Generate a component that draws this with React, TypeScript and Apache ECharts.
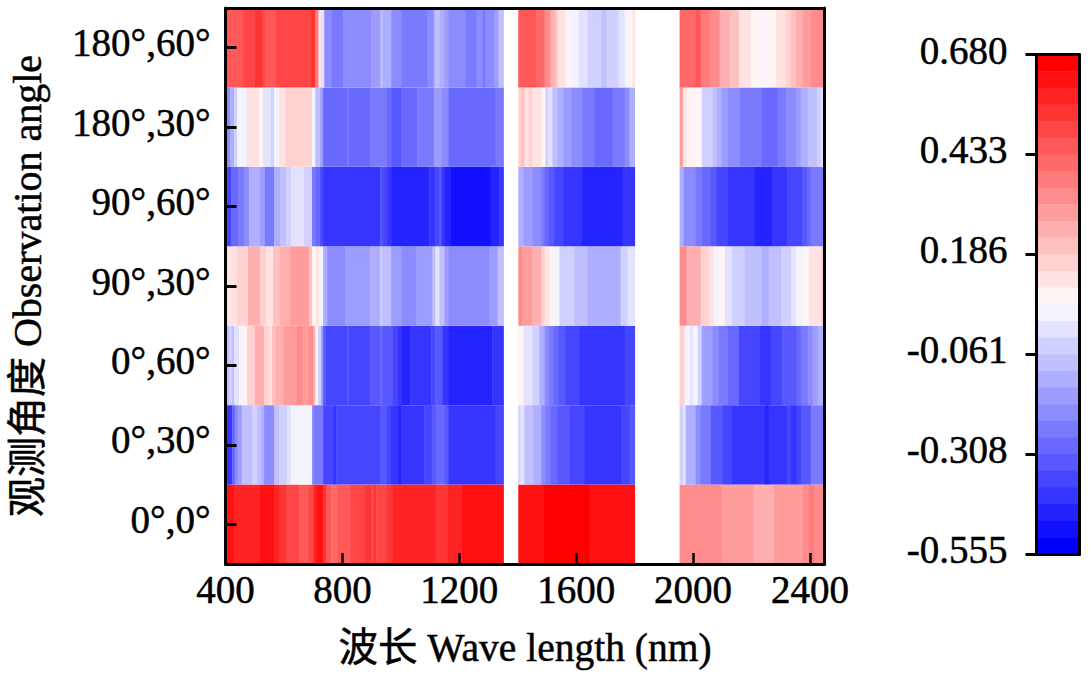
import React, { useEffect, useRef } from "react";
import * as echarts from "echarts";

const angleLabels = ["0°,0°", "0°,30°", "0°,60°", "90°,30°", "90°,60°", "180°,30°", "180°,60°"];
const colorbarTicks = [-0.555, -0.308, -0.061, 0.186, 0.433, 0.68];
const wavelengthTicks = [400, 800, 1200, 1600, 2000, 2400];
const palette = [
  "#ff0000", "#ff1111", "#ff2424", "#ff3535", "#ff4646", "#ff5858", "#ff6969", "#ff7a7a", "#ff8c8c", "#ff9d9d",
  "#ffafaf", "#ffc0c0", "#ffd1d1", "#ffe3e3", "#fff4f4", "#f4f4ff", "#e3e3ff", "#d1d1ff", "#c0c0ff", "#afafff",
  "#9d9dff", "#8c8cff", "#7a7aff", "#6969ff", "#5858ff", "#4646ff", "#3535ff", "#2424ff", "#1111ff", "#0000ff",
];

// Each entry: [wavelength where a stretch begins, value]; null marks the removed water-absorption gaps.
const row0_0 = [[400,.618],[429,.577],[518,.618],[566,.577],[583,.536],[607,.495],[652,.454],[683,.495],[700,.577],[710,.618],[734,.536],[744,.454],[762,.413],[782,.454],[827,.495],[875,.536],[899,.495],[906,.536],[916,.495],[950,.536],[971,.577],[1121,.536],[1159,.577],[1207,.618],[1351,null],
  [1402,.618],[1488,.659],[1646,.618],[1800,null],
  [1954,.330],[2098,.289],[2208,.248],[2277,.289],[2376,.330],[2397,.371],[2414,.330],[2450,null]];
const row0_30 = [[400,-.411],[422,-.287],[432,-.205],[443,-.164],[456,-.081],[491,-.040],[508,-.081],[522,-.122],[532,-.205],[566,-.081],[583,-.040],[611,.001],[624,.042],[696,-.205],[703,-.246],[734,-.369],[768,-.411],[779,-.369],[930,-.328],[950,-.369],[964,-.411],[988,-.452],[1002,-.411],[1080,-.369],[1108,-.328],[1121,-.287],[1149,-.328],[1163,-.411],[1324,-.369],[1351,null],
  [1402,-.040],[1409,.001],[1423,-.081],[1454,-.122],[1481,-.205],[1495,-.246],[1512,-.287],[1536,-.328],[1577,-.369],[1629,-.411],[1755,-.369],[1783,-.328],[1800,null],
  [1954,-.040],[1965,.001],[1975,-.122],[2009,-.205],[2026,-.246],[2061,-.328],[2102,-.369],[2133,-.411],[2246,-.452],[2259,-.411],[2321,-.369],[2335,-.411],[2355,-.369],[2369,-.328],[2403,-.246],[2450,null]];
const row0_60 = [[400,-.081],[412,-.040],[422,-.081],[429,.001],[446,.042],[460,.083],[474,.166],[501,.248],[532,.166],[549,.124],[559,.207],[570,.248],[600,.289],[642,.330],[666,.289],[683,.330],[700,.248],[707,.083],[717,-.040],[727,-.164],[734,-.328],[744,-.369],[816,-.328],[820,-.369],[895,-.328],[930,-.287],[936,-.328],[971,-.369],[988,-.411],[1002,-.452],[1032,-.411],[1104,-.369],[1118,-.328],[1142,-.411],[1163,-.452],[1313,-.411],[1351,null],
  [1402,.083],[1420,.001],[1450,-.040],[1474,-.122],[1492,-.205],[1505,-.246],[1522,-.287],[1540,-.328],[1564,-.369],[1612,-.411],[1766,-.369],[1800,null],
  [1954,.166],[1971,.042],[1989,.001],[1999,.042],[2016,-.040],[2030,-.164],[2067,-.205],[2088,-.246],[2119,-.287],[2157,-.369],[2229,-.411],[2266,-.369],[2304,-.328],[2355,-.287],[2369,-.246],[2393,-.205],[2410,-.164],[2427,-.122],[2450,null]];
const row90_30 = [[400,.124],[439,.166],[477,.248],[518,.166],[539,.124],[563,.207],[587,.248],[621,.289],[686,.207],[696,.083],[710,.124],[720,.042],[734,-.122],[748,-.205],[810,-.164],[895,-.122],[930,-.040],[936,-.081],[967,-.164],[1002,-.205],[1053,-.164],[1108,-.081],[1118,.001],[1132,-.081],[1149,-.164],[1163,-.205],[1303,-.164],[1331,-.081],[1351,null],
  [1402,.330],[1416,.289],[1450,.248],[1481,.166],[1492,.124],[1509,.083],[1526,.042],[1543,-.040],[1594,-.081],[1639,-.122],[1752,-.040],[1776,.001],[1800,null],
  [1954,.330],[1978,.248],[2026,.166],[2054,.124],[2071,.042],[2088,.083],[2109,.001],[2133,-.040],[2177,-.081],[2235,-.122],[2259,-.081],[2301,-.040],[2335,.001],[2352,.042],[2376,.083],[2397,.124],[2438,.166],[2450,null]];
const row90_60 = [[400,-.369],[419,-.287],[443,-.246],[463,-.205],[480,-.122],[518,-.164],[535,-.246],[566,-.122],[587,-.081],[607,-.040],[624,.001],[669,-.040],[696,-.246],[707,-.287],[724,-.369],[734,-.411],[930,-.328],[936,-.369],[953,-.411],[967,-.452],[1097,-.411],[1118,-.369],[1132,-.328],[1139,-.411],[1149,-.452],[1169,-.493],[1307,-.452],[1337,-.411],[1351,null],
  [1402,-.122],[1420,-.164],[1450,-.205],[1481,-.246],[1492,-.287],[1505,-.328],[1526,-.369],[1557,-.411],[1618,-.452],[1759,-.411],[1800,null],
  [1954,-.122],[1968,-.205],[2009,-.246],[2030,-.287],[2061,-.328],[2081,-.369],[2119,-.411],[2211,-.452],[2270,-.411],[2321,-.369],[2373,-.328],[2390,-.287],[2403,-.246],[2450,null]];
const row180_30 = [[400,-.205],[415,-.122],[429,-.040],[440,.042],[472,.124],[515,.083],[528,.001],[556,-.040],[566,.042],[583,.124],[604,.166],[696,.042],[707,-.081],[724,-.164],[734,-.287],[816,-.246],[820,-.287],[895,-.246],[950,-.287],[967,-.328],[998,-.369],[1001,-.287],[1056,-.246],[1113,-.164],[1139,-.205],[1163,-.287],[1324,-.246],[1351,null],
  [1402,.166],[1413,.207],[1423,.124],[1437,.166],[1450,.124],[1481,.083],[1495,-.040],[1505,.001],[1519,-.081],[1536,-.122],[1557,-.164],[1584,-.205],[1622,-.246],[1663,-.287],[1725,-.246],[1766,-.205],[1783,-.122],[1800,null],
  [1954,.289],[1965,.124],[1978,.083],[2030,-.040],[2067,-.081],[2081,-.122],[2098,-.164],[2119,-.205],[2160,-.246],[2235,-.287],[2290,-.246],[2318,-.205],[2352,-.164],[2369,-.122],[2393,-.081],[2424,-.040],[2438,.001],[2450,null]];
const row180_60 = [[400,.454],[460,.495],[501,.536],[525,.495],[535,.454],[573,.495],[690,.536],[707,.371],[718,.124],[727,.001],[738,-.205],[762,-.246],[803,-.205],[898,-.164],[930,-.081],[937,-.122],[967,-.205],[1002,-.246],[1091,-.205],[1112,-.122],[1118,-.081],[1132,-.122],[1149,-.164],[1163,-.205],[1221,-.246],[1259,-.205],[1279,-.246],[1290,-.205],[1320,-.164],[1334,-.081],[1351,null],
  [1402,.454],[1464,.413],[1492,.330],[1512,.248],[1526,.207],[1536,.124],[1564,.083],[1581,.042],[1608,.001],[1639,-.040],[1687,-.081],[1704,-.040],[1745,.001],[1766,.042],[1779,.083],[1793,.124],[1800,null],
  [1954,.413],[2009,.454],[2026,.371],[2057,.330],[2091,.248],[2126,.207],[2157,.124],[2198,.083],[2246,.042],[2253,.083],[2283,.124],[2318,.166],[2335,.207],[2352,.248],[2376,.289],[2403,.330],[2450,null]];

const rows = [row0_0, row0_30, row0_60, row90_30, row90_60, row180_30, row180_60];

const scaleMin = -0.555;
const scaleMax = 0.68;
const SERIF = "'Liberation Serif', 'Noto Sans CJK SC', serif";
const FONT = 39;

function colorOf(v: number) {
  const step = (scaleMax - scaleMin) / palette.length;
  const i = Math.min(palette.length - 1, Math.max(0, Math.floor((scaleMax - v) / step)));
  return palette[i];
}

function stripItems() {
  const out: number[][] = [];
  rows.forEach((row, r) => {
    for (let i = 0; i < row.length - 1; i++) {
      const [a, v] = row[i] as [number, number | null];
      if (v === null) continue;
      out.push([a, row[i + 1][0] as number, r, v]);
    }
  });
  return out;
}

function colorbarItems() {
  const step = (scaleMax - scaleMin) / palette.length;
  return palette.map((_, i) => [0, 1, scaleMax - (i + 1) * step, scaleMax - i * step]);
}

export default function App() {
  const ref = useRef<HTMLDivElement>(null);
  useEffect(() => {
    const chart = echarts.init(ref.current!, undefined, { renderer: "svg" });
    const line = { show: true, onZero: false, lineStyle: { color: "#000", width: 3 } };
    const label = { color: "#000", fontFamily: SERIF, fontSize: FONT, textBorderColor: "#000", textBorderWidth: 0.5 };
    chart.setOption({
      animation: false,
      backgroundColor: "#fff",
      grid: [
        { left: 225.5, top: 8, width: 599, height: 556, outerBoundsMode: "none" },
        { left: 1036.5, top: 54.5, width: 43, height: 499.5, outerBoundsMode: "none" },
      ],
      xAxis: [
        {
          gridIndex: 0, type: "value", min: 400, max: 2450, z: 10,
          axisLine: line,
          axisTick: { show: true, inside: true, length: 11, customValues: wavelengthTicks, lineStyle: { color: "#000", width: 2.5 } },
          axisLabel: { ...label, margin: 6, customValues: wavelengthTicks, showMaxLabel: true, formatter: (v: number) => String(v) },
          splitLine: { show: false },
          name: "波长 Wave length (nm)", nameLocation: "middle", nameGap: 64,
          nameTextStyle: { ...label, fontSize: 39.5 },
        },
        { gridIndex: 0, type: "value", position: "top", min: 400, max: 2450, z: 10, axisLine: line, axisTick: { show: false }, axisLabel: { show: false }, splitLine: { show: false } },
        { gridIndex: 1, type: "value", position: "bottom", min: 0, max: 1, z: 10, axisLine: line, axisTick: { show: false }, axisLabel: { show: false }, splitLine: { show: false } },
        { gridIndex: 1, type: "value", position: "top", min: 0, max: 1, z: 10, axisLine: line, axisTick: { show: false }, axisLabel: { show: false }, splitLine: { show: false } },
      ],
      yAxis: [
        {
          gridIndex: 0, type: "category", data: angleLabels, z: 10,
          axisLine: line,
          axisTick: { show: true, inside: true, alignWithLabel: true, length: 11, lineStyle: { color: "#000", width: 3 } },
          axisLabel: { ...label, margin: 15, verticalAlign: "bottom", lineHeight: 10 },
          name: "观测角度 Observation angle", nameLocation: "middle", nameGap: 178,
          nameTextStyle: { ...label, fontSize: 40 },
        },
        { gridIndex: 0, type: "value", position: "right", min: 0, max: 1, z: 10, axisLine: line, axisTick: { show: false }, axisLabel: { show: false }, splitLine: { show: false } },
        {
          gridIndex: 1, type: "value", position: "left", min: scaleMin, max: scaleMax, z: 10,
          axisLine: line,
          axisTick: { show: true, length: 11, customValues: colorbarTicks, lineStyle: { color: "#000", width: 3 } },
          axisLabel: { ...label, margin: 29, verticalAlign: "bottom", lineHeight: 9, customValues: colorbarTicks, formatter: (v: number) => v.toFixed(3) },
          splitLine: { show: false },
        },
        { gridIndex: 1, type: "value", position: "right", min: scaleMin, max: scaleMax, z: 10, axisLine: line, axisTick: { show: false }, axisLabel: { show: false }, splitLine: { show: false } },
      ],
      series: [
        {
          type: "custom", xAxisIndex: 0, yAxisIndex: 0, silent: true, clip: true, data: stripItems(),
          encode: { x: [0, 1], y: 2 },
          renderItem: (_: any, api: any) => {
            const a = api.coord([api.value(0), api.value(2)]);
            const b = api.coord([api.value(1), api.value(2)]);
            const h = api.size([0, 1])[1];
            return {
              type: "rect",
              shape: { x: a[0], y: a[1] - h / 2, width: b[0] - a[0] + 0.5, height: h },
              style: { fill: colorOf(api.value(3)) },
            };
          },
        },
        {
          type: "custom", xAxisIndex: 2, yAxisIndex: 2, silent: true, clip: true, data: colorbarItems(),
          encode: { x: [0, 1], y: [2, 3] },
          renderItem: (p: any, api: any) => {
            const a = api.coord([api.value(0), api.value(3)]);
            const b = api.coord([api.value(1), api.value(2)]);
            return {
              type: "rect",
              shape: { x: a[0], y: a[1], width: b[0] - a[0], height: b[1] - a[1] + 0.5 },
              style: { fill: palette[p.dataIndex] },
            };
          },
        },
      ],
    });
    return () => chart.dispose();
  }, []);
  return <div ref={ref} style={{ position: "fixed", left: 0, top: 0, width: 1091, height: 681 }} />;
}
